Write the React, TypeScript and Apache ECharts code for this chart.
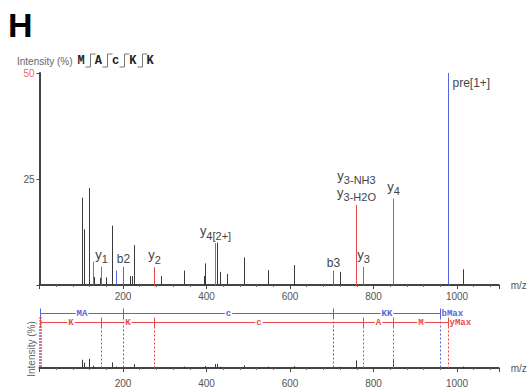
import React, { useEffect, useRef } from "react";
import * as echarts from "echarts";

// ---- data (m/z, intensity %) ----
const otherPeaks: number[][] = [
  [101, 20.6], [106.6, 13.1], [118.6, 22.9], [131, 1.9], [145, 1.7], [160, 1.8],
  [173.6, 14], [216.8, 2.1], [221.6, 2.1], [225.6, 9.4], [291.8, 2.1], [346.9, 3.4],
  [393, 2.1], [397, 5.1], [426, 10.0], [433, 3.1], [448, 2.6], [489, 6.5],
  [547, 3.5], [610, 4.7], [720, 3.1], [1014, 3.7],
];
const yIonPeaks: number[][] = [
  [127, 5.5], [147, 4.3], [273.5, 4.2], [421, 9.9], [758, 18.9], [775.6, 4.3], [847, 20.4],
];
const yIonLabels = [
  "", "{y|y}{s|1}", "{y|y}{s|2}", "{y|y}{s|4[2+]}",
  "{y|y}{s|3-NH3}\n{y|y}{s|3-H2O}", "{y|y}{s|3}", "{y|y}{s|4}",
];
const bIonPeaks: number[][] = [[184, 3.4], [200.8, 4.3], [703, 3.4]];
const bIonLabels = ["", "b2", "b3"];
const precursorPeaks: number[][] = [[979, 50]];
const precursorLabels = ["pre[1+]"];

const sequence = ["M", "A", "c", "K", "K"];

const bLadder = [1, 200.8, 703, 959];
const bLadderLabels = ["MA", "c", "KK"];
const bLadderEnd = "bMax";
const yLadder = [1, 147, 275, 775.6, 847, 979];
const yLadderLabels = ["K", "K", "c", "A", "M"];
const yLadderEnd = "yMax";

const xMin = 0;
const xMax = 1100;
const xInterval = 200;
const yTopMax = 50;
const yTopInterval = 25;
const yBottomMax = 100;

const SANS = "'Liberation Sans', Arial, sans-serif";
const MONO = "'Liberation Mono', 'DejaVu Sans Mono', monospace";
const GREY = "#444";
const RED = "#e84a4a";
const BLUE = "#5566e0";

const rich = {
  y: { fontSize: 13, fontFamily: SANS, fill: "#444", color: "#444", verticalAlign: "top" },
  s: { fontSize: 11, fontFamily: SANS, fill: "#444", color: "#444", verticalAlign: "bottom", padding: [6, 0, 0, 0] },
};

function peakSeries(data: number[][], labels: string[] | null, color: string, gridIdx: number, labelMode: string) {
  return {
    type: "custom",
    xAxisIndex: gridIdx,
    yAxisIndex: gridIdx,
    clip: false,
    silent: true,
    data: data,
    renderItem: (params: any, api: any) => {
      const i = params.dataIndex;
      const x = api.value(0);
      const y = api.value(1);
      const p0 = api.coord([x, 0]);
      const p1 = api.coord([x, y]);
      const px = Math.round(p0[0]) + 0.5;
      const children: any[] = [
        { type: "line", shape: { x1: px, y1: p0[1], x2: px, y2: p1[1] }, style: { stroke: color, lineWidth: 1 } },
      ];
      const t = labels ? labels[i] : "";
      if (t) {
        if (labelMode === "right") {
          children.push({
            type: "text", x: px + 4, y: p1[1] + 10,
            style: { text: t, fill: "#444", fontSize: 12, fontFamily: SANS, align: "left", verticalAlign: "middle" },
          });
        } else {
          children.push({
            type: "text", x: px, y: p1[1] - 2,
            style: { text: t, rich, fill: "#444", fontSize: 12, fontFamily: SANS, align: "center", verticalAlign: "bottom" },
          });
        }
      }
      return { type: "group", children };
    },
  };
}

function ladderSeries(bounds: number[], labels: string[], endLabel: string, color: string, offset: number) {
  return {
    type: "custom",
    xAxisIndex: 1,
    yAxisIndex: 1,
    clip: false,
    silent: true,
    data: bounds.map((m) => [m, 0]),
    renderItem: (params: any, api: any) => {
      const i = params.dataIndex;
      const cs = params.coordSys;
      const ly = Math.round(cs.y - offset) + 0.5;
      const bottom = cs.y + cs.height;
      const px = Math.round(api.coord([api.value(0), 0])[0]) + 0.5;
      const ch: any[] = [];
      if (i === 0) {
        ch.push({ type: "line", shape: { x1: px, y1: ly + 4, x2: px, y2: bottom }, style: { stroke: color, lineWidth: 3, lineDash: [1, 2] } });
      } else {
        ch.push({ type: "line", shape: { x1: px, y1: ly, x2: px, y2: bottom }, style: { stroke: color, lineWidth: 1, lineDash: [2, 2] } });
      }
      ch.push({ type: "line", shape: { x1: px, y1: ly - 5, x2: px, y2: ly + 5 }, style: { stroke: color, lineWidth: 1 } });
      if (i > 0) {
        const prev = Math.round(api.coord([bounds[i - 1], 0])[0]) + 0.5;
        ch.push({ type: "line", shape: { x1: prev, y1: ly, x2: px, y2: ly }, style: { stroke: color, lineWidth: 1 } });
        ch.push({
          type: "text", x: (prev + px) / 2, y: ly,
          style: {
            text: labels[i - 1], fill: color, fontSize: 9, lineHeight: 8, fontWeight: "bold", fontFamily: MONO,
            align: "center", verticalAlign: "middle", backgroundColor: "#fff", padding: [0, 1],
          },
        });
      }
      if (i === bounds.length - 1) {
        ch.push({
          type: "text", x: px + 1, y: ly,
          style: { text: endLabel, fill: color, fontSize: 9, lineHeight: 8, fontWeight: "bold", fontFamily: MONO, align: "left", verticalAlign: "middle", backgroundColor: "#fff" },
        });
      }
      return { type: "group", children: ch };
    },
  };
}

function xAxisCfg(gridIndex: number, margin: number) {
  return {
    type: "value",
    gridIndex,
    min: xMin,
    max: xMax,
    interval: xInterval,
    name: "m/z",
    nameLocation: "end",
    nameGap: 12,
    nameTextStyle: { color: "#555", fontSize: 10, fontFamily: SANS, verticalAlign: "middle" },
    axisLine: { show: true, lineStyle: { color: GREY, width: 2 } },
    axisTick: { show: true, length: 4, lineStyle: { color: GREY } },
    minorTick: { show: true, splitNumber: 5, length: 2, lineStyle: { color: "#666" } },
    splitLine: { show: false },
    axisLabel: {
      color: "#555", fontSize: 10, fontFamily: SANS, margin,
      formatter: (v: number) => (v === 0 || v % xInterval !== 0 ? "" : String(v)),
    },
  };
}

export default function App() {
  const ref = useRef<HTMLDivElement>(null);
  useEffect(() => {
    if (!ref.current) return;
    const chart = echarts.init(ref.current, null, { renderer: "svg" });
    const letterX0 = 81;
    const letterStep = 17.3;
    const graphics: any[] = [
      { type: "text", x: 8, y: 25, style: { text: "H", fontSize: 34, fontWeight: "bold", fontFamily: SANS, fill: "#000", align: "left", verticalAlign: "middle" } },
      { type: "text", x: 17, y: 61, style: { text: "Intensity (%)", fontSize: 10, fontFamily: SANS, fill: "#666", align: "left", verticalAlign: "middle" } },
      { type: "text", x: 31, y: 349, rotation: Math.PI / 2, style: { text: "Intensity (%)", fontSize: 10, fontFamily: SANS, fill: "#666", align: "center", verticalAlign: "middle" } },
    ];
    sequence.forEach((s, i) => {
      graphics.push({
        type: "text", x: letterX0 + i * letterStep, y: 61,
        style: { text: s, fontSize: 12, fontWeight: "bold", fontFamily: MONO, fill: "#222", align: "center", verticalAlign: "middle" },
      });
      if (i > 0) {
        const bx = Math.round(letterX0 + (i - 0.5) * letterStep) + 0.5;
        graphics.push({ type: "polyline", shape: { points: [[bx - 5, 67], [bx, 67], [bx, 54], [bx + 5, 54]] }, style: { stroke: "#777", lineWidth: 1, fill: null } });
      }
    });

    chart.setOption({
      animation: false,
      backgroundColor: "#fff",
      grid: [
        { left: 39.5, top: 73, width: 459.25, height: 212 },
        { left: 39.5, top: 328, width: 459.25, height: 50 },
      ],
      xAxis: [xAxisCfg(0, 6), xAxisCfg(1, 10)],
      yAxis: [
        {
          type: "value", gridIndex: 0, min: 0, max: yTopMax, interval: yTopInterval,
          axisLine: { show: true, lineStyle: { color: GREY, width: 2 } },
          axisTick: { show: true, length: 3, lineStyle: { color: GREY } },
          splitLine: { show: false },
          axisLabel: {
            fontSize: 10, fontFamily: SANS, margin: 5,
            color: (v: any) => (Number(v) === yTopMax ? "#f06a6a" : "#555"),
            formatter: (v: number) => (v === 0 ? "" : String(v)),
          },
        },
        {
          type: "value", gridIndex: 1, min: 0, max: yBottomMax,
          axisLine: { show: false }, axisTick: { show: false }, axisLabel: { show: false }, splitLine: { show: false },
        },
      ],
      graphic: graphics,
      series: [
        peakSeries(otherPeaks, null, "#3a3a3a", 0, "top"),
        peakSeries(yIonPeaks, yIonLabels, RED, 0, "top"),
        peakSeries(bIonPeaks, bIonLabels, BLUE, 0, "top"),
        peakSeries(precursorPeaks, precursorLabels, BLUE, 0, "right"),
        peakSeries(otherPeaks, null, "#3a3a3a", 1, "top"),
        peakSeries(yIonPeaks, null, "#3a3a3a", 1, "top"),
        peakSeries(bIonPeaks, null, "#3a3a3a", 1, "top"),
        ladderSeries(bLadder, bLadderLabels, bLadderEnd, BLUE, 15),
        ladderSeries(yLadder, yLadderLabels, yLadderEnd, RED, 6),
      ],
    });
    return () => chart.dispose();
  }, []);
  return <div ref={ref} style={{ position: "fixed", left: 0, top: 0, width: 530, height: 388 }} />;
}
